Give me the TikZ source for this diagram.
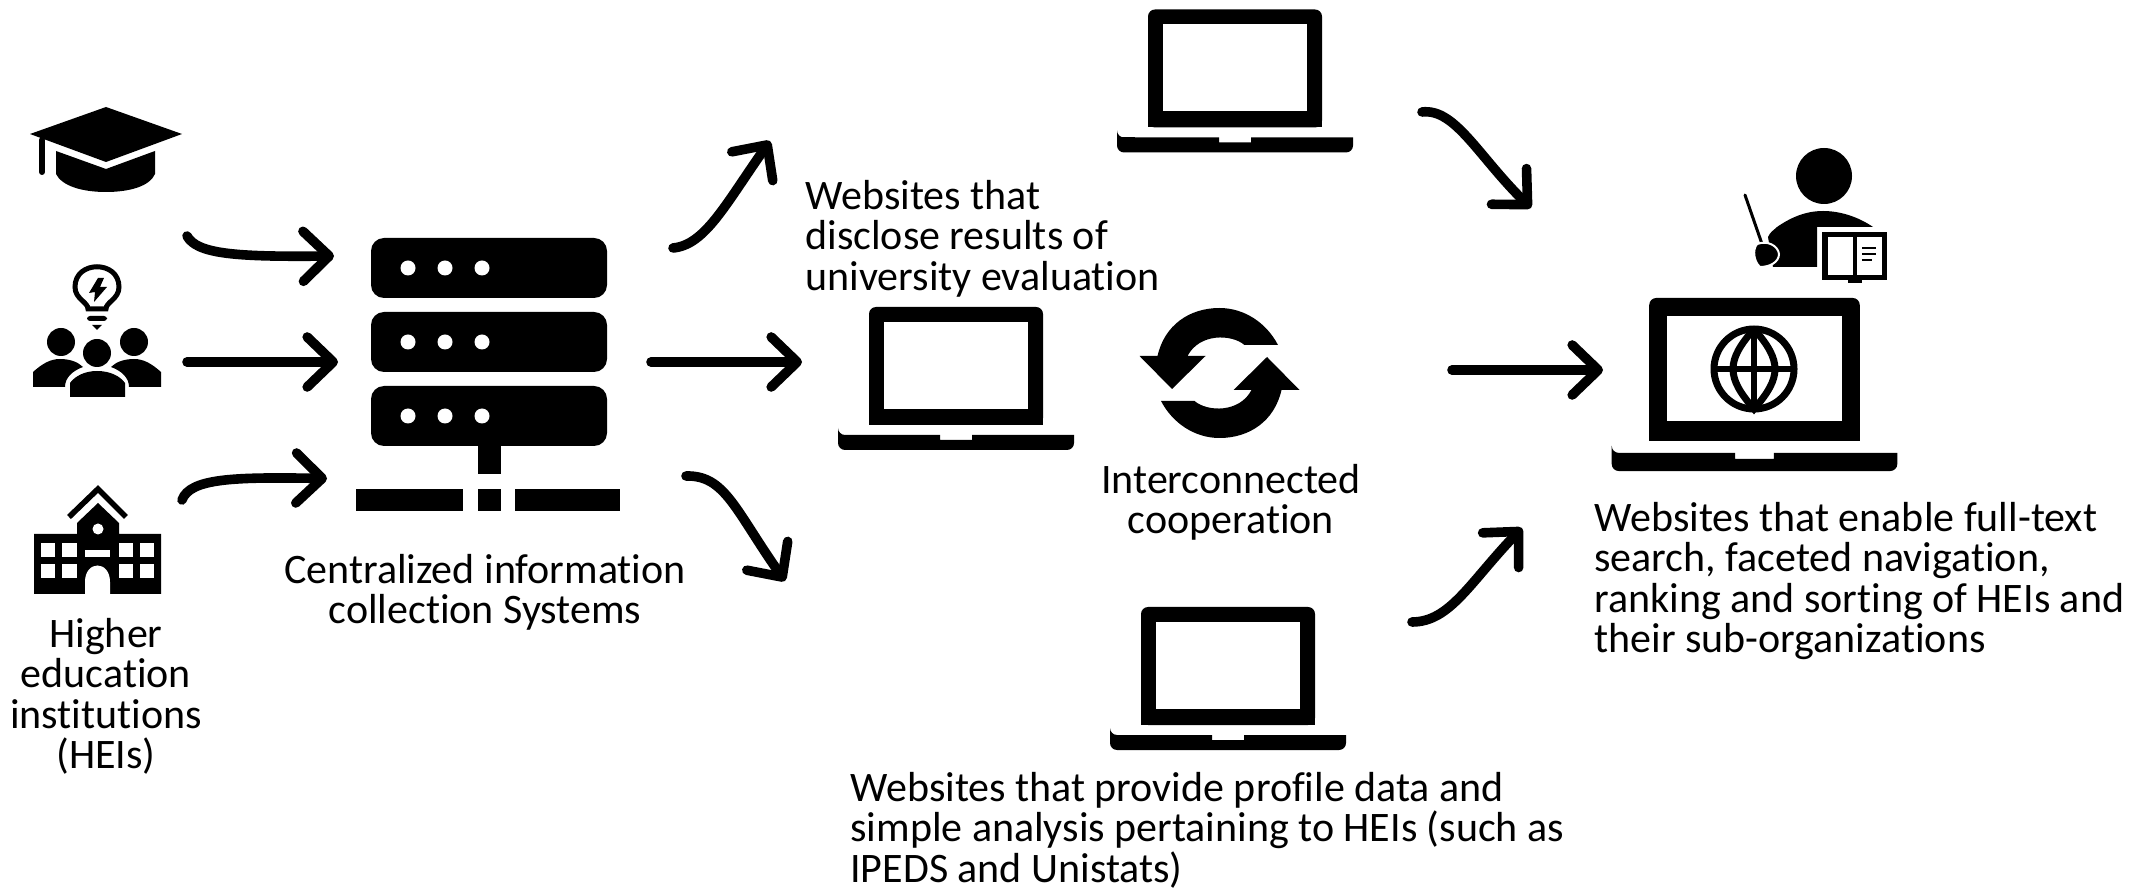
\documentclass[tikz,border=0pt]{standalone}
\usepackage{fontspec}
\setmainfont{Carlito}[Ligatures=NoCommon]
\usetikzlibrary{arrows.meta}
\tikzset{
  conn/.style={line width=4.8pt,line cap=round,line join=round,
    -{Straight Barb[length=13pt,width=25pt,round]}},
  lab/.style={inner sep=0pt,font=\fontsize{21}{20.2}\selectfont,text=black},
  labc/.style={lab,align=center,anchor=north},
  labl/.style={lab,align=left,anchor=north west},
  ink/.style={fill=black,draw=none},
  hole/.style={fill=white,draw=none},
}
\newcommand{\laptopicon}[3]{%
  \begin{scope}[shift={(#1,#2)},scale=#3]
    \fill[black,rounded corners=3.5pt] (-87,0) rectangle (87,118);
    \fill[black] (-87,50) rectangle (87,118);
    \fill[white] (-72,15) rectangle (72,102);
    \fill[black] (-118,128) -- (-16,128) -- (-16,133) -- (16,133) -- (16,128) -- (118,128)
       [rounded corners=3.5pt] -- (118,143) -- (-118,143) -- (-118,128) -- cycle;
    \fill[black] (-118,128) rectangle (-100,134);
  \end{scope}}
\newcommand{\serverrow}[1]{%
  \fill[black,rounded corners=6.5pt] (371,#1) rectangle (607,#1+60);
  \foreach \dx in {408,445,482} \fill[white] (\dx,#1+30) circle (7.5);}
\begin{document}
\begin{tikzpicture}[x=0.5pt,y=-0.5pt]
\useasboundingbox (0,0) rectangle (2147,892);
\fill[white] (0,0) rectangle (2147,892);

% mortarboard
\fill[ink] (30,134) -- (106,107) -- (182,134) -- (106,162) -- cycle;
\fill[ink] (56,151) -- (106,169) -- (155,151) -- (155,174) .. controls (150,186) and (130,192) .. (106,192)
   .. controls (82,192) and (62,186) .. (56,174) -- cycle;
\draw[line width=3pt,line cap=round] (42,140) -- (42,172);

% people with light bulb
\draw[line width=2.5pt,fill=white] (88,309)
   .. controls (88,302) and (75,299) .. (75,287)
   .. controls (75,260) and (119,260) .. (119,287)
   .. controls (119,299) and (106,302) .. (106,309) -- cycle;
\fill[ink] (98,278) -- (89,293) -- (95,292) -- (94,302) -- (107,287) -- (100,287) -- (104,278) -- cycle;
\fill[black,rounded corners=1.5pt] (87,316) rectangle (107,321);
\fill[ink] (92,325) -- (102,325) -- (97,330) -- cycle;
\fill[black] (61,342) circle (14) (134,342) circle (14) (97,353) circle (14);
\fill[ink] (33,387) -- (33,372) .. controls (42,364) and (50,359) .. (60,359)
   .. controls (70,359) and (78,362) .. (83,367) .. controls (72,371) and (65,378) .. (65,387) -- cycle;
\fill[ink] (161,387) -- (161,372) .. controls (152,364) and (144,359) .. (134,359)
   .. controls (124,359) and (116,362) .. (111,367) .. controls (122,371) and (129,378) .. (129,387) -- cycle;
\fill[ink] (70,397) -- (70,383) .. controls (75,376) and (85,371) .. (97,371)
   .. controls (110,371) and (120,376) .. (125,383) -- (125,397) -- cycle;

% school
\fill[ink] (34,534) -- (77,534) -- (77,523) -- (98,503) -- (119,523) -- (119,534) -- (161,534) -- (161,594) -- (34,594) -- cycle;
\draw[line width=2.8pt,miter limit=10] (69,517) -- (98,489) -- (126,517);
\fill[white] (98,529) circle (5.5);
\foreach \xa/\xb in {41/55,62/77,119/133,140/154}
  \foreach \ya/\yb in {543/557,564/578} \fill[hole] (\xa,\ya) rectangle (\xb,\yb);
\fill[hole] (85,550) rectangle (110,557);
\fill[hole] (85,594) -- (85,582) .. controls (85,560) and (110,560) .. (110,582) -- (110,594) -- cycle;

% server
\serverrow{238}\serverrow{312}\serverrow{386}
\fill[ink] (478,440) rectangle (500.5,474);
\fill[ink] (356,489.5) rectangle (463,511.5);
\fill[ink] (478,489.5) rectangle (500.5,511.5);
\fill[ink] (515,489.5) rectangle (620,511.5);

% laptops
\laptopicon{1235}{9.5}{1}
\laptopicon{956}{307}{1}
\laptopicon{1228}{607}{1}
\laptopicon{1754.5}{298}{1.21}

% globe
\draw[line width=3.5pt] (1754,369) circle (40);
\draw[line width=3.5pt] (1754,329) .. controls (1768,345) and (1775,357) .. (1775,369)
   .. controls (1775,381) and (1768,393) .. (1754,409)
   .. controls (1740,393) and (1733,381) .. (1733,369)
   .. controls (1733,357) and (1740,345) .. (1754,329);
\draw[line width=3pt] (1754,329) -- (1754,409) (1714,369) -- (1794,369);

% teacher
\fill[black] (1824,176) circle (28);
\fill[ink] (1773,267) -- (1768,237) .. controls (1770,232) and (1774,230) .. (1777,227)
   .. controls (1790,218) and (1805,211) .. (1823,211)
   .. controls (1842,211) and (1860,218) .. (1873,227) -- (1817,227) -- (1817,267) -- cycle;
\draw[line width=1.5pt,line cap=round] (1745,195) -- (1762,244);
\draw[white,line width=1pt,fill=black] (1757,244) .. controls (1768,240) and (1778,246) .. (1779,254)
   .. controls (1779,262) and (1770,267) .. (1760,267) .. controls (1754,262) and (1752,250) .. (1757,244) -- cycle;
\fill[ink] (1822,232) rectangle (1887,280);
\fill[hole] (1828,237) rectangle (1853,275);
\fill[hole] (1857,237) rectangle (1882,275);
\fill[ink] (1848,280) rectangle (1862,283);
\draw[line width=1pt] (1862,248) -- (1876,248) (1862,254) -- (1876,254) (1862,260) -- (1872,260);

% sync
\begin{scope}[shift={(1219.5,373)}]
  \foreach \r in {0,180}{
   \begin{scope}[rotate=\r]
    \fill[ink] (58.5,-28) -- (25,-28) .. controls (12,-39) and (-20,-40) .. (-32,-17)
       -- (-14,-17) -- (-47.5,16) -- (-80,-17) -- (-62,-17)
       .. controls (-55,-48) and (-30,-65) .. (0,-65)
       .. controls (25,-65) and (47,-50) .. (58.5,-28) -- cycle;
   \end{scope}}
\end{scope}

% connectors
\coordinate (a1s) at (187,236); \coordinate (a1e) at (334,256);
\coordinate (a2s) at (187,362); \coordinate (a2e) at (338,362);
\coordinate (a3s) at (182,500); \coordinate (a3e) at (327,478.5);
\coordinate (a4s) at (651,362); \coordinate (a4e) at (802,362);
\coordinate (a5s) at (673,248); \coordinate (a5e) at (770,141);
\coordinate (a6s) at (686,476); \coordinate (a6e) at (785,581);
\coordinate (a7s) at (1422,112); \coordinate (a7e) at (1531,208);
\coordinate (a8s) at (1412,622); \coordinate (a8e) at (1522,528);
\coordinate (a9s) at (1452,370); \coordinate (a9e) at (1603,370);
\draw[conn] (a1s) .. controls (197,254) and (235,257) .. (a1e);
\draw[conn] (a2s) -- (a2e);
\draw[conn] (a3s) .. controls (190,478) and (235,477) .. (a3e);
\draw[conn] (a4s) -- (a4e);
\draw[conn] (a5s) .. controls (705,245) and (725,205) .. (a5e);
\draw[conn] (a6s) .. controls (725,475) and (735,510) .. (a6e);
\draw[conn] (a7s) .. controls (1455,108) and (1478,156) .. (a7e);
\draw[conn] (a8s) .. controls (1450,622) and (1470,582) .. (a8e);
\draw[conn] (a9s) -- (a9e);

% labels
\node[labc] (heis) at (106,618) {Higher\\education\\institutions\\(HEIs)};
\node[labc] (central) at (485,554) {Centralized information\\collection Systems};
\node[labl] (disclose) at (805,180) {Websites that\\disclose results of\\university evaluation};
\node[labc] (inter) at (1231,464) {Interconnected\\cooperation};
\node[labl] (full) at (1594,502) {Websites that enable full-text\\search, faceted navigation,\\ranking and sorting of HEIs and\\their sub-organizations};
\node[labl] (profile) at (850,772) {Websites that provide profile data and\\simple analysis pertaining to HEIs (such as\\IPEDS and Unistats)};
\end{tikzpicture}
\end{document}
